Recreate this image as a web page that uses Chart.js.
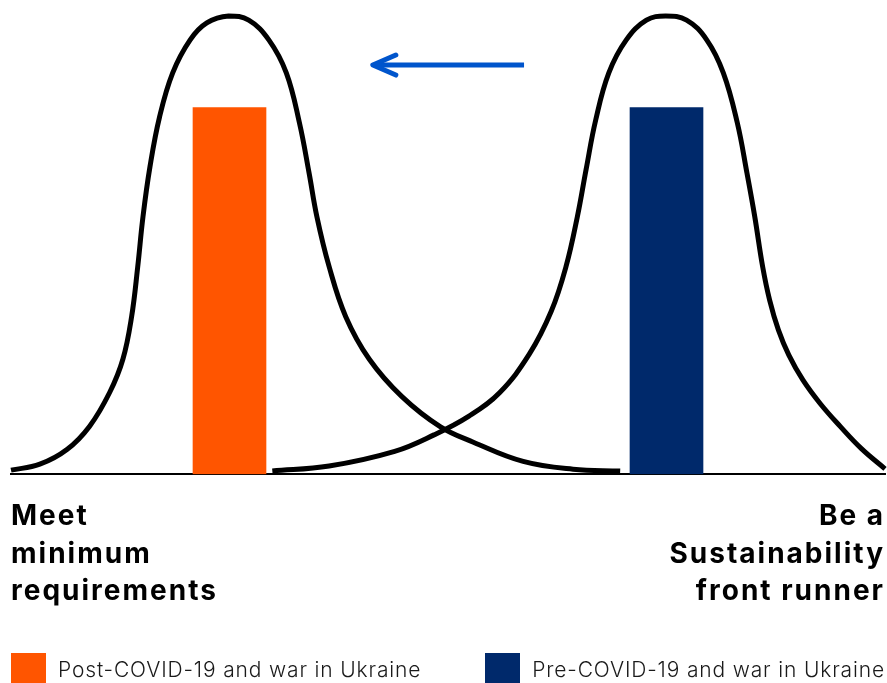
<!DOCTYPE html>
<html lang="en">
<head>
  <meta charset="UTF-8">
  <title>Sustainability ambition shift</title>
  <script src="https://cdn.jsdelivr.net/npm/chart.js"></script>
  <style>
    html, body { margin: 0; padding: 0; background: #fff; }
    #wrap { position: relative; width: 887px; height: 683px; overflow: hidden; }
    #legend {
      position: absolute; left: 11px; right: 2px; top: 652px;
      display: flex; justify-content: space-between;
      font-family: Inter, "Noto Sans", sans-serif; font-weight: 300; font-size: 21px;
      letter-spacing: 0.85px; color: #1a1a1a;
    }
    .item { display: flex; align-items: center; height: 31px; padding-top: 2px; }
    .swatch { display: inline-block; width: 35px; height: 31px; margin: -2px 12px 0 0; }
  </style>
</head>
<body>
  <div id="wrap">
    <canvas id="chart"></canvas>
    <div id="legend"></div>
  </div>

  <script>
    // x runs 0..100 across the axis, y 0..100 from baseline to curve peak
    const tickValues = [0, 100];
    const axisLabels = [
      ['Meet', 'minimum', 'requirements'],
      ['Be a', 'Sustainability', 'front runner']
    ];

    const seriesNames = ['Post-COVID-19 and war in Ukraine', 'Pre-COVID-19 and war in Ukraine'];
    const barPositions = [25, 75];
    const barValues = [80, 80];

    const leftCurveX = [0, 3.3, 6.4, 9.0, 11.3, 12.8, 13.8, 14.5, 15.1, 15.9, 17.0, 18.5, 20.5, 22.4, 24.9,
      27.2, 29.5, 31.5, 33.0, 34.1, 35.0, 36.4, 38.3, 41.0, 44.7, 49.1, 52.9, 58.6, 64.3, 69.7];
    const leftCurveY = [0.9, 2.2, 5.4, 10.5, 17.9, 25.1, 34.4, 45.3, 56.2, 67.1, 78.0, 87.6, 94.8, 98.5, 100,
      99.1, 94.8, 87.6, 76.7, 65.8, 56.2, 45.3, 34.4, 25.1, 17.0, 10.4, 7.0, 2.8, 1.1, 0.7];

    const rightCurveX = [29.9, 36.4, 43.9, 48.4, 52.4, 55.9, 59.3, 61.8, 63.5, 64.8, 65.8, 66.9, 68.4, 70.4, 72.7,
      74.9, 77.3, 79.6, 81.5, 83.1, 84.2, 85.1, 86.0, 86.8, 87.8, 89.0, 90.6, 92.6, 94.9, 97.3, 100];
    const rightCurveY = [0.7, 1.8, 5.0, 8.6, 12.7, 17.8, 26.2, 35.5, 45.3, 56.2, 66.5, 77.3, 87.6, 94.8, 99.1,
      100, 99.1, 94.8, 87.6, 76.7, 65.8, 56.2, 45.3, 38.0, 31.5, 26.0, 20.6, 15.4, 10.4, 5.6, 1.2];

    // arrow from the front runner side back to minimum requirements
    const arrowX = [58.7, 41.4];
    const arrowY = [89.3, 89.3];

    const barColors = ['#ff5500', '#00296b'];

    const toPoints = (xs, ys) => xs.map((v, i) => ({ x: v, y: ys[i] }));

    const curveStyle = {
      type: 'line',
      borderColor: '#000',
      borderWidth: 5,
      pointRadius: 0,
      tension: 0.4,
      fill: false,
      clip: false
    };

    const arrowPlugin = {
      id: 'shiftArrow',
      afterDatasetsDraw(chart) {
        const { ctx, scales: { x, y } } = chart;
        const x0 = x.getPixelForValue(arrowX[0]);
        const x1 = x.getPixelForValue(arrowX[1]);
        const y0 = y.getPixelForValue(arrowY[0]);
        const y1 = y.getPixelForValue(arrowY[1]);
        ctx.save();
        ctx.strokeStyle = '#0055cc';
        ctx.lineWidth = 5;
        ctx.beginPath();
        ctx.moveTo(x0, y0);
        ctx.lineTo(x1 + 3, y1);
        ctx.stroke();
        ctx.lineCap = 'round';
        ctx.lineJoin = 'round';
        ctx.beginPath();
        ctx.moveTo(x1 + 23, y1 - 10);
        ctx.lineTo(x1, y1);
        ctx.lineTo(x1 + 23, y1 + 10);
        ctx.stroke();
        ctx.restore();
      }
    };

    // the original lettering is wider than Inter, so space it out a little
    const spacingPlugin = {
      id: 'labelSpacing',
      beforeDraw(chart) { chart.ctx.letterSpacing = '2px'; },
      afterDraw(chart) { chart.ctx.letterSpacing = '0px'; }
    };

    new Chart(document.getElementById('chart'), {
      type: 'line',
      data: {
        datasets: [
          { ...curveStyle, data: toPoints(leftCurveX, leftCurveY) },
          { ...curveStyle, data: toPoints(rightCurveX, rightCurveY) },
          ...seriesNames.map((name, i) => ({
            type: 'bar',
            label: name,
            data: [{ x: barPositions[i], y: barValues[i] }],
            backgroundColor: barColors[i],
            barThickness: 73,
            grouped: false
          }))
        ]
      },
      options: {
        responsive: true,
        maintainAspectRatio: false,
        animation: false,
        layout: { padding: { left: 11, right: 2, top: 16, bottom: 73 } },
        plugins: { legend: { display: false }, tooltip: { enabled: false } },
        scales: {
          x: {
            type: 'linear',
            min: 0,
            max: 100,
            offset: false,
            afterBuildTicks: axis => { axis.ticks = tickValues.map(v => ({ value: v })); },
            grid: { display: false, drawTicks: true, tickLength: 24 },
            border: { display: true, color: '#000', width: 2 },
            ticks: {
              padding: 0,
              align: 'inner',
              color: '#000',
              font: { family: 'Inter', size: 28, weight: '700', lineHeight: 1.33 },
              callback: (value, index) => axisLabels[index]
            }
          },
          y: { display: false, min: 0, max: 100 }
        }
      },
      plugins: [arrowPlugin, spacingPlugin]
    });

    // legend built from the same series arrays
    document.getElementById('legend').innerHTML = seriesNames.map((name, i) =>
      `<span class="item"><span class="swatch" style="background:${barColors[i]}"></span>${name}</span>`
    ).join('');
  </script>
</body>
</html>
